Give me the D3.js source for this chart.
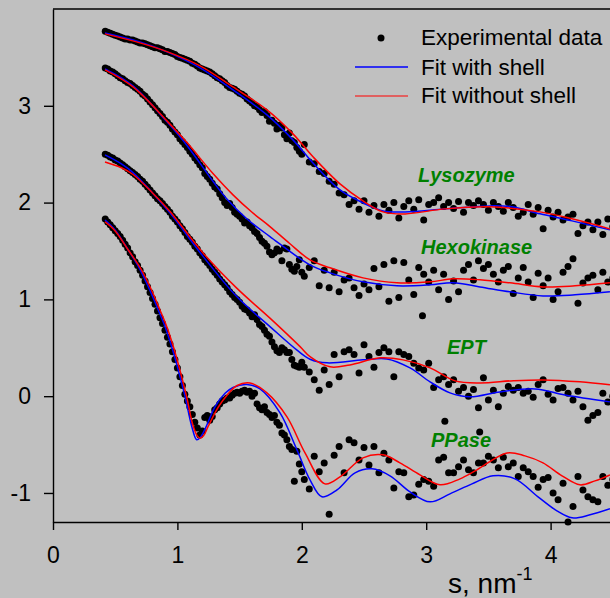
<!DOCTYPE html>
<html>
<head>
<meta charset="utf-8">
<script src="https://cdn.jsdelivr.net/npm/d3@7"></script>
<style>
  body { margin: 0; background: #c0c0c0; }
  svg { display: block; font-family: Arial, "Liberation Sans", sans-serif; }
</style>
</head>
<body>
<div id="chart"></div>
<script>
// ---- data ----
var xTicks = [0, 1, 2, 3, 4];
var yTicks = [-1, 0, 1, 2, 3];
var proteinNames = ["Lysozyme", "Hexokinase", "EPT", "PPase"];
var legendLabels = ["Experimental data", "Fit with shell", "Fit without shell"];

// s values of the experimental points (nm^-1)
var sExp = [
  0.42,0.46,0.50,0.54,0.58,0.62,0.66,0.70,0.74,0.78,
  0.82,0.86,0.90,0.94,0.98,1.02,1.06,1.10,1.14,1.18,
  1.22,1.26,1.30,1.34,1.38,1.42,1.46,1.50,1.54,1.58,
  1.62,1.66,1.70,1.74,1.78,1.82,1.86,1.90,1.94,1.98,
  2.02,2.06,2.10,2.14,2.18,2.22,2.26,2.30,2.34,2.38,
  2.42,2.46,2.50,2.54,2.58,2.62,2.66,2.70,2.74,2.78,
  2.82,2.86,2.90,2.94,2.98,3.02,3.06,3.10,3.14,3.18,
  3.22,3.26,3.30,3.34,3.38,3.42,3.46,3.50,3.54,3.58,
  3.62,3.66,3.70,3.74,3.78,3.82,3.86,3.90,3.94,3.98,
  4.02,4.06,4.10,4.14,4.18,4.22,4.26,4.30,4.34,4.38,
  4.42,4.46,4.50];

// the in-between points of the dense low-s part
var sExpMid = [
  0.44,0.48,0.52,0.56,0.60,0.64,0.68,0.72,0.76,0.80,
  0.84,0.88,0.92,0.96,1.00,1.04,1.08,1.12,1.16,1.20,
  1.24,1.28,1.32,1.36,1.40,1.44,1.48,1.52,1.56,1.60,
  1.64,1.68,1.72,1.76,1.80,1.84,1.88,1.92,1.96,2.00];

var lysozymeExp = [
  3.77,3.75,3.73,3.71,3.69,3.68,3.67,3.65,3.64,3.62,
  3.60,3.59,3.56,3.55,3.53,3.50,3.48,3.46,3.43,3.39,
  3.37,3.35,3.31,3.28,3.24,3.19,3.17,3.13,3.10,3.05,
  3.00,2.96,2.94,2.84,2.82,2.80,2.70,2.72,2.62,2.53,
  2.60,2.42,2.40,2.32,2.30,2.22,2.19,2.10,2.08,1.98,
  2.02,1.93,2.02,1.90,1.97,1.86,1.98,1.92,2.00,1.84,
  1.96,2.02,1.93,2.03,1.82,1.98,2.00,2.05,1.96,2.00,
  1.94,2.01,1.90,2.00,1.97,2.02,1.98,1.92,2.00,1.96,
  1.91,2.00,1.95,1.86,1.90,1.98,1.88,1.95,1.73,1.92,
  1.85,1.90,1.82,1.85,1.88,1.68,1.76,1.80,1.72,1.80,
  1.67,1.83,1.75];
var lysozymeMid = [
  3.76,3.74,3.72,3.70,3.69,3.68,3.66,3.65,3.63,3.61,
  3.60,3.58,3.56,3.54,3.51,3.49,3.47,3.44,3.41,3.38,
  3.36,3.33,3.29,3.26,3.21,3.18,3.15,3.12,3.07,3.03,
  2.99,2.93,2.90,2.85,2.76,2.77,2.66,2.64,2.57,2.50];

var hexokinaseExp = [
  3.39,3.36,3.33,3.29,3.26,3.23,3.19,3.15,3.10,3.04,
  2.98,2.92,2.85,2.80,2.73,2.66,2.60,2.53,2.46,2.39,
  2.30,2.24,2.16,2.09,2.00,1.99,1.90,1.86,1.79,1.76,
  1.70,1.64,1.58,1.49,1.48,1.50,1.53,1.36,1.29,1.41,
  1.24,1.33,1.40,1.14,1.30,1.12,1.28,1.08,1.20,1.22,
  1.12,1.04,1.16,1.10,1.32,1.13,1.36,0.98,1.40,1.02,
  1.38,1.20,1.05,1.33,1.26,1.18,1.30,1.10,1.26,1.00,
  1.19,1.08,1.30,1.36,1.20,1.40,1.32,1.36,1.26,1.18,
  1.30,1.34,1.06,1.22,1.33,1.18,1.02,1.27,1.14,1.22,
  1.00,1.08,1.28,1.34,1.42,0.96,1.17,1.22,1.25,1.10,
  1.28,1.18,1.22];
var hexokinaseMid = [
  3.38,3.35,3.31,3.28,3.24,3.21,3.17,3.12,3.07,3.01,
  2.95,2.89,2.83,2.76,2.70,2.63,2.57,2.50,2.43,2.36,
  2.27,2.20,2.14,2.05,1.97,1.95,1.88,1.83,1.80,1.74,
  1.68,1.60,1.55,1.46,1.52,1.40,1.52,1.31,1.34,1.28];

var eptExp = [
  2.50,2.47,2.44,2.41,2.37,2.33,2.29,2.24,2.19,2.13,
  2.07,2.02,1.96,1.90,1.83,1.76,1.69,1.62,1.55,1.48,
  1.41,1.35,1.28,1.21,1.15,1.08,1.02,0.97,0.90,0.86,
  0.84,0.74,0.68,0.62,0.51,0.45,0.48,0.45,0.32,0.30,
  0.30,0.25,0.17,0.06,0.27,0.12,0.43,0.20,0.46,0.48,
  0.43,0.24,0.53,0.41,0.30,0.45,0.50,0.46,0.20,0.46,
  0.43,0.41,0.34,0.29,0.27,0.34,0.09,0.17,0.20,0.12,
  0.17,0.05,0.09,0.00,0.07,-0.12,0.19,-0.04,0.06,-0.11,
  0.03,0.10,0.06,0.09,0.03,0.05,-0.01,0.12,0.17,0.02,
  -0.04,0.08,0.09,0.03,-0.04,0.05,-0.11,-0.25,-0.20,-0.17,
  0.03,-0.06,0.00];
var eptMid = [
  2.49,2.46,2.43,2.39,2.35,2.31,2.27,2.22,2.16,2.10,
  2.04,1.99,1.93,1.86,1.80,1.73,1.65,1.59,1.52,1.45,
  1.38,1.31,1.25,1.18,1.12,1.05,1.00,0.93,0.89,0.82,
  0.79,0.72,0.64,0.56,0.47,0.50,0.45,0.38,0.31,0.35];

var ppaseExp = [
  1.83,1.77,1.71,1.65,1.57,1.48,1.39,1.30,1.19,1.07,
  0.95,0.81,0.68,0.54,0.38,0.20,0.02,-0.11,-0.27,-0.40,
  -0.22,-0.25,-0.14,-0.08,-0.04,-0.02,0.03,0.03,0.06,0.05,
  0.03,-0.12,-0.11,-0.19,-0.20,-0.30,-0.40,-0.52,-0.88,-0.70,
  -0.86,-0.96,-0.62,-0.78,-0.69,-1.22,-0.61,-0.52,-0.79,-0.45,
  -0.48,-0.66,-0.53,-0.71,-0.52,-0.79,-0.59,-0.66,-0.95,-0.78,
  -0.79,-1.04,-1.02,-0.91,-0.86,-0.88,-0.93,-0.66,-0.63,-0.79,
  -0.79,-0.73,-0.66,-0.76,-0.79,-0.69,-0.69,-0.62,-0.66,-0.74,
  -0.63,-0.73,-0.69,-0.83,-0.74,-0.78,-0.83,-0.94,-0.86,-0.84,
  -1.00,-1.07,-0.90,-1.30,-1.14,-0.83,-0.97,-1.04,-1.07,-1.09,
  -0.83,-0.92,-0.86];
var ppaseMid = [
  1.80,1.74,1.68,1.61,1.53,1.44,1.35,1.25,1.13,1.01,
  0.88,0.75,0.61,0.46,0.29,0.11,-0.05,-0.19,-0.33,-0.36,
  -0.20,-0.21,-0.12,-0.05,-0.02,0.01,0.04,0.05,0.04,0.00,
  -0.08,-0.14,-0.17,-0.22,-0.27,-0.38,-0.45,-0.55,-0.57,-0.78];

// stray points off the regular grid [s, value]
var extraExp = [[2.97, 0.83], [3.15, -0.26], [3.43, -0.37]];

// fitted curves [s, value]
var lysozymeShell = [[0.418,3.753],[0.699,3.660],[0.916,3.557],[1.182,3.392],[1.447,3.164],[1.720,2.906],[1.929,2.648],[2.090,2.410],[2.307,2.131],[2.492,1.997],[2.653,1.914],[2.830,1.904],[3.151,1.935],[3.513,1.966],[3.690,1.956],[3.915,1.884],[4.172,1.811],[4.477,1.718]];
var lysozymeNoShell = [[0.418,3.743],[0.699,3.650],[0.916,3.560],[1.182,3.413],[1.447,3.195],[1.720,2.958],[1.929,2.710],[2.090,2.473],[2.307,2.193],[2.492,2.018],[2.653,1.904],[2.830,1.883],[3.151,1.935],[3.513,1.956],[3.915,1.904],[4.172,1.832],[4.477,1.728]];

var hexokinaseShell = [[0.418,3.381],[0.643,3.206],[0.916,2.834],[1.077,2.590],[1.286,2.220],[1.396,2.040],[1.560,1.830],[1.744,1.649],[2.066,1.356],[2.227,1.274],[2.492,1.181],[2.765,1.140],[3.031,1.150],[3.215,1.171],[3.432,1.129],[3.674,1.078],[3.939,1.036],[4.196,1.047],[4.477,1.078]];
var hexokinaseNoShell = [[0.418,3.371],[0.643,3.195],[0.916,2.844],[1.077,2.620],[1.286,2.300],[1.447,2.080],[1.600,1.900],[1.744,1.752],[1.900,1.580],[2.066,1.408],[2.227,1.326],[2.492,1.222],[2.765,1.171],[3.031,1.181],[3.215,1.212],[3.432,1.202],[3.674,1.171],[3.939,1.129],[4.196,1.140],[4.477,1.171]];

var eptShell = [[0.418,2.493],[0.550,2.400],[0.643,2.310],[0.800,2.100],[0.941,1.891],[1.208,1.442],[1.477,1.029],[1.744,0.719],[1.959,0.478],[2.066,0.382],[2.203,0.344],[2.492,0.375],[2.685,0.385],[2.870,0.292],[3.031,0.148],[3.191,0.034],[3.352,-0.007],[3.593,0.044],[3.875,0.075],[4.116,0.013],[4.477,-0.059]];
var eptNoShell = [[0.418,2.420],[0.550,2.360],[0.643,2.290],[0.800,2.100],[0.941,1.908],[1.208,1.477],[1.477,1.116],[1.744,0.806],[1.986,0.512],[2.066,0.409],[2.227,0.303],[2.387,0.323],[2.629,0.396],[2.814,0.375],[3.031,0.292],[3.232,0.158],[3.432,0.137],[3.700,0.160],[3.939,0.168],[4.236,0.148],[4.477,0.117]];

var ppaseShell = [[0.418,1.82],[0.498,1.72],[0.605,1.51],[0.686,1.34],[0.766,1.13],[0.846,0.89],[0.900,0.72],[0.954,0.51],[1.007,0.27],[1.061,0.00],[1.115,-0.31],[1.155,-0.45],[1.182,-0.43],[1.222,-0.34],[1.302,-0.11],[1.383,0.03],[1.447,0.09],[1.559,0.12],[1.664,0.075],[1.825,-0.173],[1.961,-0.555],[2.066,-0.865],[2.162,-1.04],[2.283,-0.968],[2.428,-0.792],[2.564,-0.751],[2.709,-0.823],[2.870,-0.989],[3.031,-1.092],[3.191,-1.009],[3.368,-0.906],[3.537,-0.823],[3.714,-0.854],[3.899,-1.040],[4.051,-1.185],[4.172,-1.257],[4.317,-1.226],[4.477,-1.164]];
var ppaseNoShell = [[0.418,1.80],[0.498,1.71],[0.605,1.51],[0.700,1.33],[0.780,1.13],[0.860,0.89],[0.914,0.72],[0.968,0.51],[1.020,0.27],[1.073,0.00],[1.125,-0.30],[1.160,-0.41],[1.182,-0.435],[1.210,-0.41],[1.248,-0.31],[1.330,-0.11],[1.399,0.01],[1.480,0.11],[1.584,0.135],[1.720,0.034],[1.881,-0.214],[2.026,-0.586],[2.186,-0.906],[2.307,-0.834],[2.492,-0.637],[2.653,-0.606],[2.789,-0.689],[2.950,-0.813],[3.111,-0.916],[3.272,-0.854],[3.408,-0.761],[3.650,-0.586],[3.794,-0.617],[3.939,-0.689],[4.092,-0.823],[4.236,-0.916],[4.357,-0.875],[4.477,-0.813]];

var series = [
  { exp: lysozymeExp,   mid: lysozymeMid,   shell: lysozymeShell,   noShell: lysozymeNoShell },
  { exp: hexokinaseExp, mid: hexokinaseMid, shell: hexokinaseShell, noShell: hexokinaseNoShell },
  { exp: eptExp,        mid: eptMid,        shell: eptShell,        noShell: eptNoShell },
  { exp: ppaseExp,      mid: ppaseMid,      shell: ppaseShell,      noShell: ppaseNoShell }
];

// ---- layout ----
var W = 610, H = 598;
var plotLeft = 53, plotTop = 9, plotBottom = 522;
var x = d3.scaleLinear().domain([0, 4.5]).range([plotLeft, plotLeft + 124.4 * 4.5]);
var y = d3.scaleLinear().domain([-1.3, 4.0]).range([plotBottom, plotTop]);

var svg = d3.select("#chart").append("svg")
    .attr("width", W)
    .attr("height", H);

svg.append("rect").attr("width", W).attr("height", H).attr("fill", "#c0c0c0");

// experimental points
var points = [];
series.forEach(function(s) {
  s.exp.forEach(function(v, i) { points.push([sExp[i], v]); });
  s.mid.forEach(function(v, i) { points.push([sExpMid[i], v]); });
});
extraExp.forEach(function(p) { points.push(p); });

svg.append("g").selectAll("circle")
  .data(points)
  .enter().append("circle")
    .attr("cx", function(d) { return x(d[0]); })
    .attr("cy", function(d) { return y(d[1]); })
    .attr("r", 3.5)
    .attr("fill", "#000");

// fits
var line = d3.line()
  .x(function(d) { return x(d[0]); })
  .y(function(d) { return y(d[1]); })
  .curve(d3.curveCatmullRom.alpha(0.5));

series.forEach(function(s) {
  svg.append("path").attr("d", line(s.shell))
    .attr("fill", "none").attr("stroke", "#0000ff").attr("stroke-width", 1.5);
  svg.append("path").attr("d", line(s.noShell))
    .attr("fill", "none").attr("stroke", "#ff0000").attr("stroke-width", 1.5);
});

// axes
var xAxis = svg.append("g")
  .attr("transform", "translate(0," + plotBottom + ")")
  .call(d3.axisBottom(x).tickValues(xTicks).tickSize(8).tickSizeOuter(0).tickPadding(17)
        .tickFormat(function(d) { return String(d); }));
var yAxis = svg.append("g")
  .attr("transform", "translate(" + plotLeft + ",0)")
  .call(d3.axisLeft(y).tickValues(yTicks).tickSize(9).tickSizeOuter(0).tickPadding(13)
        .tickFormat(function(d) { return String(d); }));

[xAxis, yAxis].forEach(function(a) {
  a.attr("font-size", 23).attr("font-family", "Arial, 'Liberation Sans', sans-serif");
  a.selectAll("path, line").attr("stroke", "#000").attr("stroke-width", 1.4);
  a.selectAll("text").attr("fill", "#000");
});

// top border
svg.append("line")
  .attr("x1", plotLeft).attr("x2", W)
  .attr("y1", plotTop).attr("y2", plotTop)
  .attr("stroke", "#000").attr("stroke-width", 1.4);

// axis title
var xt = svg.append("text").attr("x", 448).attr("y", 593).attr("font-size", 28).attr("fill", "#000");
xt.append("tspan").text("s, nm");
xt.append("tspan").attr("font-size", 18).attr("dy", -13).text("-1");

// protein labels
var labelPos = [[418, 182], [421, 254], [447, 354], [431, 447]];
svg.append("g").selectAll("text")
  .data(proteinNames)
  .enter().append("text")
    .attr("x", function(d, i) { return labelPos[i][0]; })
    .attr("y", function(d, i) { return labelPos[i][1]; })
    .attr("font-size", 20)
    .attr("font-weight", "bold")
    .attr("font-style", "italic")
    .attr("fill", "#008000")
    .text(function(d) { return d; });

// legend
var lg = svg.append("g");
lg.append("circle").attr("cx", 381).attr("cy", 38).attr("r", 3.5).attr("fill", "#000");
lg.append("line").attr("x1", 355).attr("x2", 408).attr("y1", 67).attr("y2", 67)
  .attr("stroke", "#0000ff").attr("stroke-width", 1.5);
lg.append("line").attr("x1", 355).attr("x2", 408).attr("y1", 96).attr("y2", 96)
  .attr("stroke", "#ff0000").attr("stroke-width", 1.2);
var legendY = [45, 75, 103];
lg.selectAll("text")
  .data(legendLabels)
  .enter().append("text")
    .attr("x", 421)
    .attr("y", function(d, i) { return legendY[i]; })
    .attr("font-size", 22.5)
    .attr("fill", "#000")
    .text(function(d) { return d; });
</script>
</body>
</html>
